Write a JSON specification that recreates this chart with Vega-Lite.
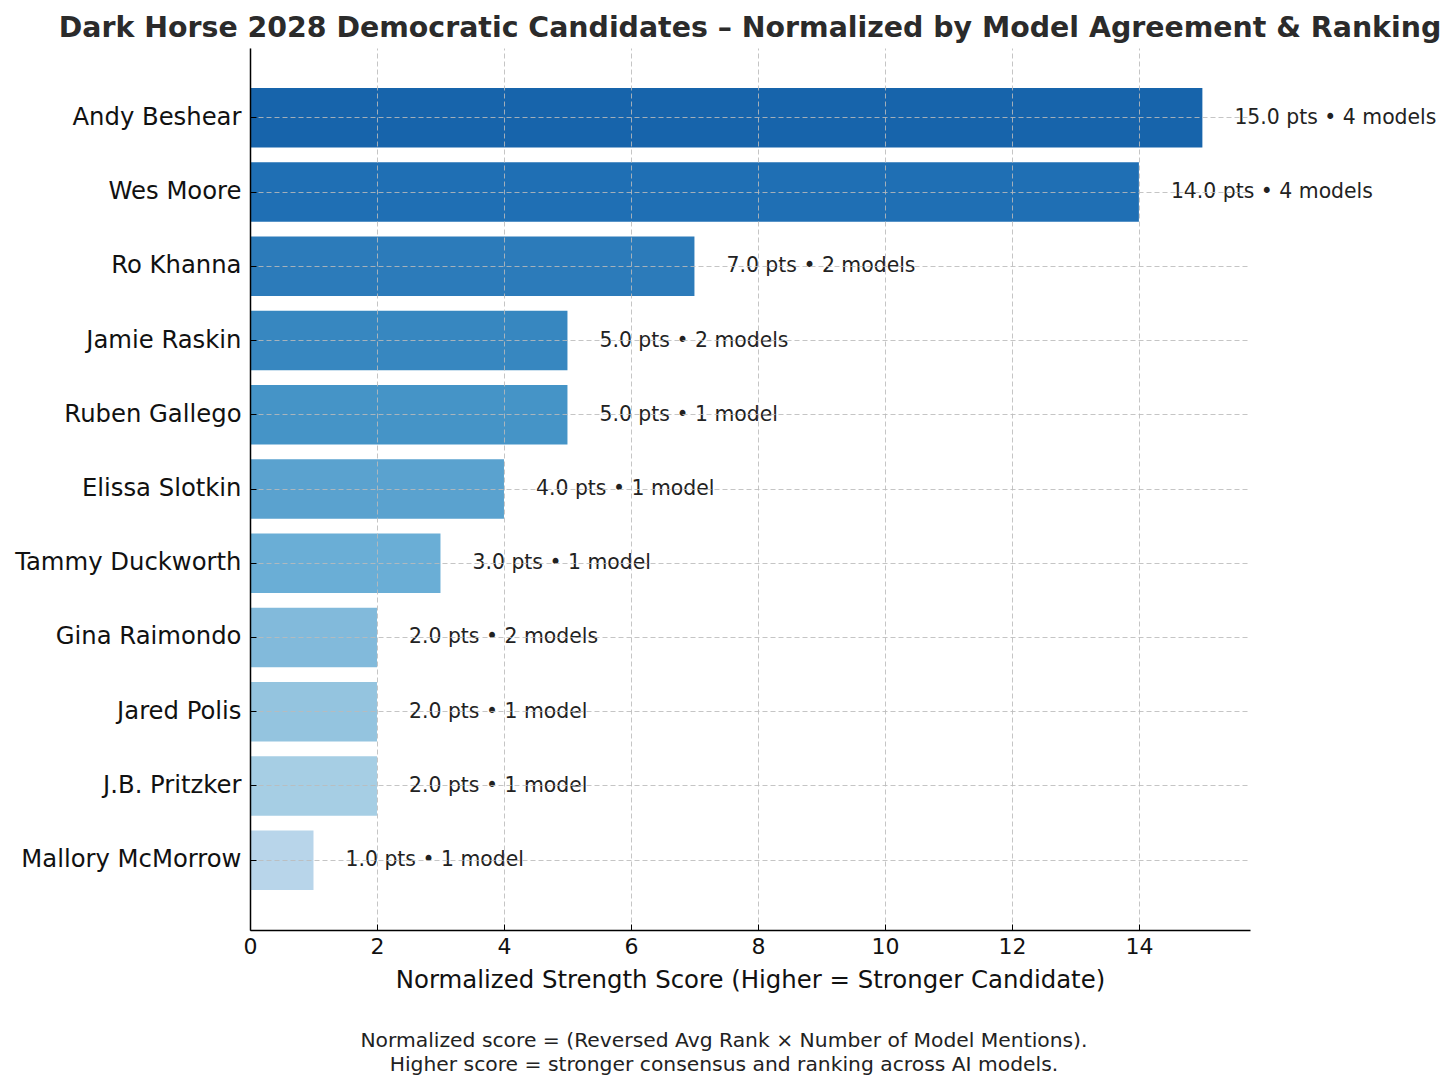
{
  "$schema": "https://vega.github.io/schema/vega-lite/v6.json",
  "background": "white",
  "padding": {"left": 14, "top": 13, "right": 5, "bottom": 5},
  "config": {
    "font": "DejaVu Sans",
    "view": {"stroke": null},
    "axis": {"labelFont": "DejaVu Sans", "titleFont": "DejaVu Sans", "labelColor": "#111111", "titleColor": "#111111"}
  },
  "title": {
    "text": ["Normalized score = (Reversed Avg Rank × Number of Model Mentions).", "Higher score = stronger consensus and ranking across AI models."],
    "orient": "bottom",
    "anchor": "middle",
    "frame": "bounds",
    "fontSize": 20.3,
    "fontWeight": "normal",
    "color": "#222222",
    "lineHeight": 24,
    "offset": 40,
    "dx": -4
  },
  "vconcat": [
    {
      "width": 1000,
      "height": 882,
      "title": {
        "text": "Dark Horse 2028 Democratic Candidates – Normalized by Model Agreement & Ranking",
        "fontSize": 28.4,
        "fontWeight": "bold",
        "color": "#2b2b2b",
        "anchor": "middle",
        "frame": "group",
        "offset": 5
      },
      "data": {
        "values": [
          {"candidate": "Andy Beshear", "score": 15, "label": "15.0 pts • 4 models"},
          {"candidate": "Wes Moore", "score": 14, "label": "14.0 pts • 4 models"},
          {"candidate": "Ro Khanna", "score": 7, "label": "7.0 pts • 2 models"},
          {"candidate": "Jamie Raskin", "score": 5, "label": "5.0 pts • 2 models"},
          {"candidate": "Ruben Gallego", "score": 5, "label": "5.0 pts • 1 model"},
          {"candidate": "Elissa Slotkin", "score": 4, "label": "4.0 pts • 1 model"},
          {"candidate": "Tammy Duckworth", "score": 3, "label": "3.0 pts • 1 model"},
          {"candidate": "Gina Raimondo", "score": 2, "label": "2.0 pts • 2 models"},
          {"candidate": "Jared Polis", "score": 2, "label": "2.0 pts • 1 model"},
          {"candidate": "J.B. Pritzker", "score": 2, "label": "2.0 pts • 1 model"},
          {"candidate": "Mallory McMorrow", "score": 1, "label": "1.0 pts • 1 model"}
        ]
      },
      "encoding": {
        "y": {
          "field": "candidate",
          "type": "nominal",
          "sort": null,
          "scale": {"paddingInner": 0.2, "paddingOuter": 0.54},
          "axis": {
            "title": null,
            "labelFontSize": 24.3,
            "labelLimit": 0,
            "labelColor": "#111111",
            "labelPadding": 15,
            "tickSize": -6,
            "tickColor": "#000000",
            "domainColor": "#000000",
            "domainWidth": 1.5,
            "bandPosition": 0.5,
            "grid": true,
            "gridColor": "#bbbbbb",
            "gridDash": [5, 3],
            "gridWidth": 1,
            "gridOpacity": 0.85,
            "zindex": 1
          }
        },
        "x": {
          "field": "score",
          "type": "quantitative",
          "scale": {"domain": [0, 15.75], "nice": false, "zero": true},
          "axis": {
            "title": "Normalized Strength Score (Higher = Stronger Candidate)",
            "titleFontSize": 24.4,
            "titleFontWeight": "normal",
            "titlePadding": 11,
            "labelFontSize": 22,
            "labelPadding": 12,
            "labelFlush": false,
            "values": [0, 2, 4, 6, 8, 10, 12, 14],
            "tickSize": -6,
            "tickColor": "#000000",
            "domainColor": "#000000",
            "domainWidth": 1.5,
            "grid": true,
            "gridColor": "#bbbbbb",
            "gridDash": [5, 3],
            "gridWidth": 1,
            "gridOpacity": 0.85,
            "zindex": 1
          }
        }
      },
      "layer": [
        {
          "mark": {"type": "bar"},
          "encoding": {
            "color": {
              "field": "candidate",
              "type": "nominal",
              "legend": null,
              "scale": {
                "domain": ["Andy Beshear", "Wes Moore", "Ro Khanna", "Jamie Raskin", "Ruben Gallego", "Elissa Slotkin", "Tammy Duckworth", "Gina Raimondo", "Jared Polis", "J.B. Pritzker", "Mallory McMorrow"],
                "range": ["#1764ab", "#1f6fb4", "#2c7bba", "#3787c0", "#4594c7", "#5aa2cf", "#6aaed6", "#82badb", "#94c4df", "#a6cee4", "#b8d5ea"]
              }
            }
          }
        },
        {
          "mark": {"type": "text", "align": "left", "baseline": "middle", "dx": 32, "fontSize": 20.4, "color": "#222222", "font": "DejaVu Sans"},
          "encoding": {"text": {"field": "label"}}
        }
      ]
    }
  ]
}
